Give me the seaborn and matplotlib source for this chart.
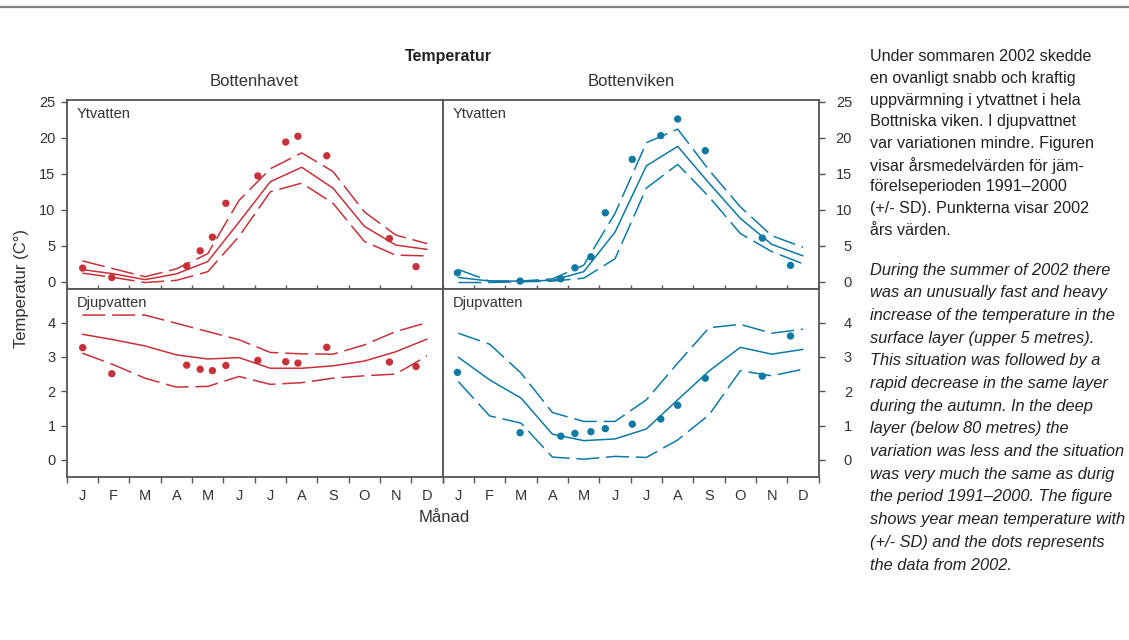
import numpy as np
import pandas as pd
import matplotlib
matplotlib.use("Agg")
import matplotlib.pyplot as plt
from matplotlib.lines import Line2D
import seaborn as sns

# ---------------- data ----------------
months = ["J", "F", "M", "A", "M", "J", "J", "A", "S", "O", "N", "D"]
month_pos = [0.5, 1.5, 2.5, 3.5, 4.5, 5.5, 6.5, 7.5, 8.5, 9.5, 10.5, 11.5]

# Bottenhavet, surface water (Ytvatten)
bh_yt_mean = [1.7, 1.1, 0.3, 1.1, 2.8, 8.3, 13.9, 15.9, 13.0, 7.7, 5.1, 4.5]
bh_yt_upper = [2.9, 1.8, 0.7, 1.8, 3.9, 11.3, 15.7, 17.9, 15.3, 9.7, 6.5, 5.3]
bh_yt_lower = [1.2, 0.6, -0.1, 0.2, 1.4, 6.3, 12.5, 13.7, 10.9, 5.6, 3.7, 3.6]
bh_dot_x = [0.51, 1.44, 3.83, 4.26, 4.65, 5.08, 6.10, 6.99, 7.38, 8.30, 10.30, 11.15]
bh_yt_2002 = [1.9, 0.6, 2.2, 4.3, 6.2, 10.9, 14.7, 19.4, 20.2, 17.5, 6.0, 2.1]

# Bottenhavet, deep water (Djupvatten)
bh_dj_mean = [3.66, 3.50, 3.32, 3.06, 2.94, 2.98, 2.67, 2.67, 2.74, 2.88, 3.15, 3.52]
bh_dj_upper = [4.22, 4.22, 4.22, 3.98, 3.74, 3.50, 3.13, 3.09, 3.08, 3.35, 3.74, 4.00]
bh_dj_lower = [3.11, 2.77, 2.38, 2.12, 2.14, 2.43, 2.20, 2.25, 2.38, 2.45, 2.50, 3.03]
bh_dj_2002 = [3.27, 2.51, 2.76, 2.64, 2.60, 2.75, 2.90, 2.86, 2.82, 3.28, 2.85, 2.72]

# Bottenviken, surface water (Ytvatten)
bv_yt_mean = [0.6, 0.1, 0.1, 0.2, 1.4, 6.9, 16.1, 18.8, 13.7, 8.8, 5.2, 3.6]
bv_yt_upper = [1.7, 0.1, 0.1, 0.4, 2.3, 9.5, 19.3, 21.2, 15.5, 10.4, 6.4, 4.8]
bv_yt_lower = [-0.1, -0.1, 0.0, 0.1, 0.5, 3.2, 13.0, 16.3, 11.8, 6.7, 4.2, 2.5]
bv_dot_x = [0.47, 2.47, 3.77, 4.22, 4.73, 5.19, 6.05, 6.96, 7.50, 8.38, 10.20, 11.10]
bv_yt_2002 = [1.25, 0.1, 0.42, 1.94, 3.47, 9.58, 17.0, 20.3, 22.6, 18.2, 6.07, 2.28]

# Bottenviken, deep water (Djupvatten)
bv_dj_mean = [2.99, 2.33, 1.80, 0.75, 0.56, 0.61, 0.90, 1.75, 2.59, 3.28, 3.08, 3.22]
bv_dj_upper = [3.69, 3.37, 2.53, 1.38, 1.12, 1.12, 1.75, 2.82, 3.85, 3.95, 3.69, 3.81]
bv_dj_lower = [2.28, 1.28, 1.07, 0.08, 0.02, 0.10, 0.07, 0.58, 1.31, 2.60, 2.45, 2.64]
bv_dj_2002 = [2.55, 0.79, 0.69, 0.77, 0.82, 0.91, 1.04, 1.19, 1.59, 2.38, 2.44, 3.61]

yt_ticks = [0, 5, 10, 15, 20, 25]
dj_ticks = [0, 1, 2, 3, 4]

RED = "#c8313a"
BLUE = "#0d7aa6"
FRAME = "#555555"
TXT = "#333333"

sns.set_theme(style="white")
plt.rcParams["font.family"] = ["Liberation Sans", "DejaVu Sans"]

W, H = 1129, 640
fig = plt.figure(figsize=(W / 100, H / 100), dpi=100)


def fx(px):
    return px / W


def fy(py):
    return 1 - py / H


x0L, x0R, wpx = 66.7, 442.7, 376.0
ax_tl = fig.add_axes([fx(x0L), fy(289), fx(wpx), (289 - 100) / H])
ax_tr = fig.add_axes([fx(x0R), fy(289), fx(wpx), (289 - 100) / H])
ax_bl = fig.add_axes([fx(x0L), fy(477), fx(wpx), (477 - 289) / H])
ax_br = fig.add_axes([fx(x0R), fy(477), fx(wpx), (477 - 289) / H])


def draw(ax, mean, upper, lower, dx, dots, color):
    df = pd.DataFrame({"m": month_pos, "mean": mean, "upper": upper, "lower": lower})
    dd = pd.DataFrame({"x": dx, "y": dots})
    sns.lineplot(data=df, x="m", y="mean", ax=ax, color=color, lw=1.1)
    for col in ["upper", "lower"]:
        sns.lineplot(data=df, x="m", y=col, ax=ax, color=color, lw=1.1,
                     dashes=False).lines[-1].set_dashes((15, 4.5))
    sns.scatterplot(data=dd, x="x", y="y", ax=ax, color=color, s=28,
                    edgecolor="none", zorder=5)
    ax.set_xlim(0, 12)
    ax.set_xlabel("")
    ax.set_ylabel("")
    for sp in ax.spines.values():
        sp.set_visible(True)
        sp.set_color(FRAME)
        sp.set_linewidth(1.3)
    ax.set_xticks(range(13))
    ax.set_xticklabels([])


draw(ax_tl, bh_yt_mean, bh_yt_upper, bh_yt_lower, bh_dot_x, bh_yt_2002, RED)
draw(ax_tr, bv_yt_mean, bv_yt_upper, bv_yt_lower, bv_dot_x, bv_yt_2002, BLUE)
draw(ax_bl, bh_dj_mean, bh_dj_upper, bh_dj_lower, bh_dot_x, bh_dj_2002, RED)
draw(ax_br, bv_dj_mean, bv_dj_upper, bv_dj_lower, bv_dot_x, bv_dj_2002, BLUE)

for ax in (ax_tl, ax_tr):
    ax.set_ylim(-1.0, 25.24)
    ax.set_yticks(yt_ticks)
    ax.tick_params(axis="x", direction="in", length=3, width=1, color=FRAME,
                   bottom=True, top=False)
for ax in (ax_bl, ax_br):
    ax.set_ylim(-0.5, 4.98)
    ax.set_yticks(dj_ticks)
    ax.tick_params(axis="x", direction="out", length=4, width=1, color=FRAME,
                   bottom=True, top=False)
    ax.set_xticks(month_pos, minor=True)
    ax.set_xticklabels(months, minor=True)
    ax.tick_params(axis="x", which="minor", length=0, pad=9, labelsize=10.5,
                   labelcolor=TXT)

for ax in (ax_tl, ax_bl):
    ax.tick_params(axis="y", direction="out", length=4, width=1, color=FRAME,
                   left=True, right=False, labelleft=True, labelright=False,
                   labelsize=10.5, labelcolor=TXT, pad=4)
    ax.set_yticklabels([str(t) for t in ax.get_yticks()])
for ax in (ax_tr, ax_br):
    ax.tick_params(axis="y", direction="out", length=4, width=1, color=FRAME,
                   left=False, right=True, labelleft=False, labelright=True,
                   labelsize=10.5, labelcolor=TXT, pad=20)
    ax.set_yticklabels([str(t) for t in ax.get_yticks()])
    for lbl in ax.get_yticklabels():
        lbl.set_horizontalalignment("right")

for ax in (ax_tl, ax_tr):
    ax.text(10 / wpx, 0.925, "Ytvatten", transform=ax.transAxes, fontsize=10.5,
            color=TXT, va="center", ha="left")
for ax in (ax_bl, ax_br):
    ax.text(10 / wpx, 0.925, "Djupvatten", transform=ax.transAxes, fontsize=10.5,
            color=TXT, va="center", ha="left")

# titles and labels
fig.text(fx(448), fy(57), "Temperatur", fontsize=11.5, fontweight="bold",
         color="#222222", ha="center", va="center")
fig.text(fx(254), fy(82), "Bottenhavet", fontsize=12, color=TXT, ha="center", va="center")
fig.text(fx(631), fy(82), "Bottenviken", fontsize=12, color=TXT, ha="center", va="center")
fig.text(fx(22), fy(288), "Temperatur (C°)", fontsize=12, color=TXT, rotation=90,
         ha="center", va="center")
fig.text(fx(444), fy(518), "Månad", fontsize=12, color=TXT, ha="center", va="center")

# top rule
fig.add_artist(Line2D([0, 1], [fy(7), fy(7)], transform=fig.transFigure,
                      color="#808080", lw=1.6))

sv_lines = [
    "Under sommaren 2002 skedde",
    "en ovanligt snabb och kraftig",
    "uppvärmning i ytvattnet i hela",
    "Bottniska viken. I djupvattnet",
    "var variationen mindre. Figuren",
    "visar årsmedelvärden för jäm-",
    "förelseperioden 1991–2000",
    "(+/- SD). Punkterna visar 2002",
    "års värden.",
]
en_lines = [
    "During the summer of 2002 there",
    "was an unusually fast and heavy",
    "increase of the temperature in the",
    "surface layer (upper 5 metres).",
    "This situation was followed by a",
    "rapid decrease in the same layer",
    "during the autumn. In the deep",
    "layer (below 80 metres) the",
    "variation was less and the situation",
    "was very much the same as durig",
    "the period 1991–2000. The figure",
    "shows year mean temperature with",
    "(+/- SD) and the dots represents",
    "the data from 2002.",
]
for i, s in enumerate(sv_lines):
    fig.text(fx(870), fy(56.7 + 21.67 * i), s, fontsize=11.6, color="#222222",
             ha="left", va="center")
for i, s in enumerate(en_lines):
    fig.text(fx(870), fy(270 + 22.7 * i), s, fontsize=11.8, color="#222222",
             style="italic", ha="left", va="center")

fig.savefig("out.png", dpi=100)
